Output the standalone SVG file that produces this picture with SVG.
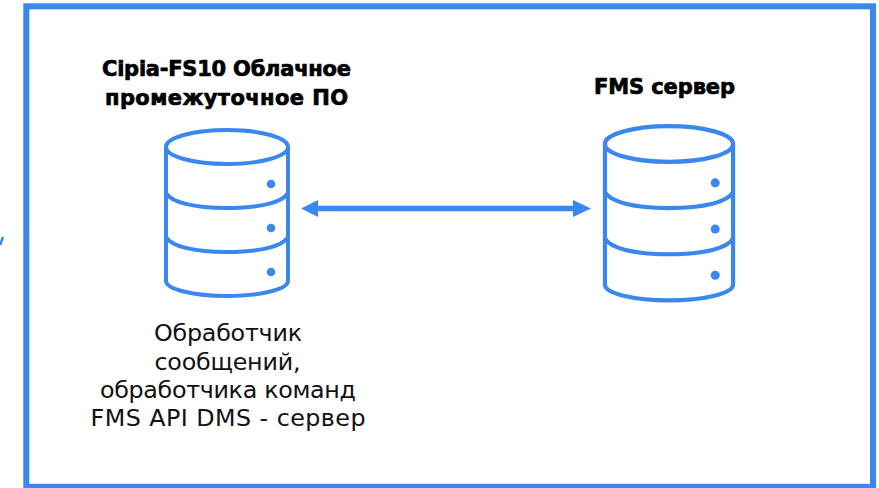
<svg xmlns="http://www.w3.org/2000/svg" width="879" height="488" viewBox="0 0 879 488">
<style>
.s{fill:none;stroke:#3a88ee;stroke-width:4}
.d{fill:#3a88ee}
.t{font-family:"DejaVu Sans",sans-serif;font-size:23.800px;fill:#111;text-anchor:middle}
.b{font-family:"DejaVu Sans",sans-serif;font-size:21px;font-weight:bold;fill:#000;stroke:#000;stroke-width:.7;text-anchor:middle}
</style>
<defs>
<g id="cyl">
<ellipse class="s" cx="0" cy="0" rx="61" ry="17"/>
<path class="s" d="M-61 0V134C-61 142 -34 149 0 149S61 142 61 134V0"/>
<path class="s" d="M-61 46C-56 55 -34 61 0 61S56 55 61 46"/>
<path class="s" d="M-61 90C-56 99 -34 105 0 105S56 99 61 90"/>
<circle class="d" cx="44" cy="37" r="4.300"/>
<circle class="d" cx="44" cy="81" r="4.300"/>
<circle class="d" cx="44" cy="125" r="4.300"/>
</g>
</defs>
<rect width="879" height="488" fill="#fff"/>
<rect id="frame" x="26.300" y="6.300" width="846.700" height="480.500" fill="none" stroke="#3a88ee" stroke-width="6"/>
<path d="M0 245L3 237" fill="none" stroke="#3a88ee" stroke-width="2.500"/>
<g id="node-left">
<text class="b" x="226.500" y="76" textLength="249">Cipia-FS10 Облачное</text>
<text class="b" x="226.500" y="105" textLength="243">промежуточное ПО</text>
<use href="#cyl" x="227" y="147"/>
<text class="t" x="228" y="341" textLength="148">Обработчик</text>
<text class="t" x="227.500" y="370" textLength="146">сообщений,</text>
<text class="t" x="228" y="398" textLength="256">обработчика команд</text>
<text class="t" x="228" y="426" textLength="275">FMS API DMS - сервер</text>
</g>
<g id="node-right">
<text class="b" x="664.500" y="94" textLength="141">FMS сервер</text>
<use href="#cyl" transform="translate(669 144) scale(1.05)"/>
</g>
<g id="connectors">
<path d="M316 208.500H577" fill="none" stroke="#3a88ee" stroke-width="5.500"/>
<path class="d" d="M301 208.500L318 200V217Z"/>
<path class="d" d="M591 208.500L573 200V217Z"/>
</g>
</svg>
